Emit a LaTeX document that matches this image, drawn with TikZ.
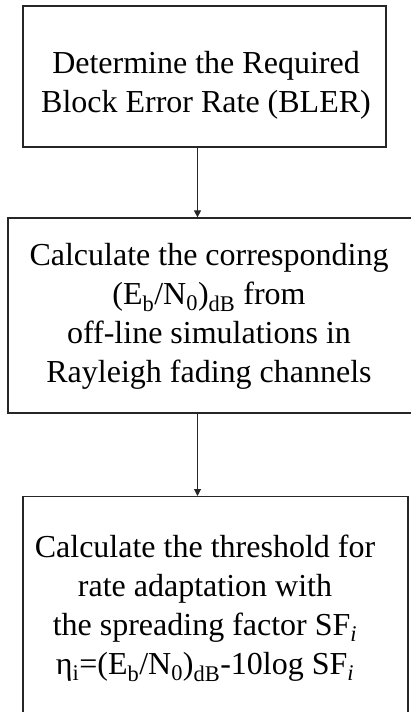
\documentclass[tikz,border=0pt]{standalone}
\usepackage{fontspec}
\setmainfont{Liberation Serif}
\usetikzlibrary{arrows.meta,positioning}
\tikzset{
  stepbox/.style={draw=black!85,line width=1.2pt,fill=white,inner sep=0pt},
  steptext/.style={align=center,font=\fontsize{32}{39}\selectfont,inner sep=0pt},
  arr/.style={-{Triangle[length=7pt,width=7pt]},line width=1pt,draw=black!85},
}
\begin{document}
\begin{tikzpicture}[x=1pt,y=1pt]
  \useasboundingbox (0,0) rectangle (411,-712);
  % boxes
  \node[stepbox,minimum width=363pt,minimum height=141pt] (b1) at (204.5,-76.5) {};
  \node[stepbox,minimum width=406pt,minimum height=195pt] (b2) at (211,-315.5) {};
  \node[stepbox,minimum width=385pt,minimum height=260pt,anchor=north] (b3) at (215.5,-496) {};
  % texts
  \node[steptext] (t1) at (206,-85) {Determine the Required\\Block Error Rate (BLER)};
  \node[steptext] (t2) at (209,-316) {Calculate the corresponding\\(E\textsubscript{b}/N\textsubscript{0})\textsubscript{dB} from\\off-line simulations in\\Rayleigh fading channels};
  \node[steptext] (t3) at (205,-608) {Calculate the threshold for\\rate adaptation with\\the spreading factor SF\textsubscript{\itshape i}\\η\textsubscript{i}=(E\textsubscript{b}/N\textsubscript{0})\textsubscript{dB}-10log SF\textsubscript{\itshape i}};
  % arrows
  \coordinate (ax) at (197.5,0);
  \draw[arr] (b1.south -| ax) -- (b2.north -| ax);
  \draw[arr] (b2.south -| ax) -- (b3.north -| ax);
\end{tikzpicture}
\end{document}
